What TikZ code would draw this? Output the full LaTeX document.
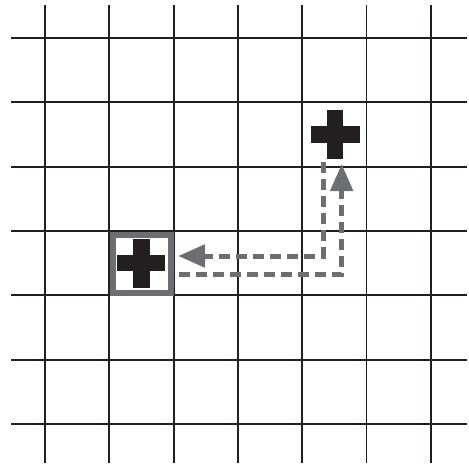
\documentclass[tikz,border=0pt]{standalone}
\usetikzlibrary{arrows.meta}
\definecolor{gridc}{HTML}{231F20}
\definecolor{pathc}{HTML}{6D6E71}
\tikzset{
  gridline/.style={draw=gridc, line width=1.8pt},
  crossbar/.style={fill=gridc, draw=none},
  route/.style={draw=pathc, line width=5pt, dash pattern=on 11pt off 6pt, -{Triangle[length=27pt,width=22pt]}},
  frame/.style={draw=pathc, line width=6pt, fill=white}
}
\begin{document}
\begin{tikzpicture}[x=1pt,y=-1pt]
\useasboundingbox (0,0) rectangle (469,466);
% grid
\foreach \i in {0,...,6} {
  \draw[gridline] ({45+64.3*\i},5) -- ({45+64.3*\i},463);
  \draw[gridline] (11,{38+64.33*\i}) -- (467,{38+64.33*\i});
}
% framed cross (start cell)
\node[frame, minimum size=58pt, inner sep=0pt] (box) at (141.5,263.5) {};
\fill[gridc] (133.3,239) rectangle (150,288);
\fill[gridc] (116.7,255) rectangle (165.3,270.5);
% top-right cross
\node[inner sep=0pt, minimum size=49pt] (goal) at (335,134.5) {};
\fill[gridc] (326.5,110) rectangle (343,159);
\fill[gridc] (311,126) rectangle (360,142.7);
% route coordinates
\coordinate (a1) at (323.3,162);
\coordinate (a2) at (323.3,256);
\coordinate (a3) at (178,256);
\coordinate (b1) at (179,274.3);
\coordinate (b2) at (341.7,274.3);
\coordinate (b3) at (341.7,164);
\draw[route] (a1) -- (a2) -- (a3);
\draw[route] (b1) -- (b2) -- (b3);
\end{tikzpicture}
\end{document}
